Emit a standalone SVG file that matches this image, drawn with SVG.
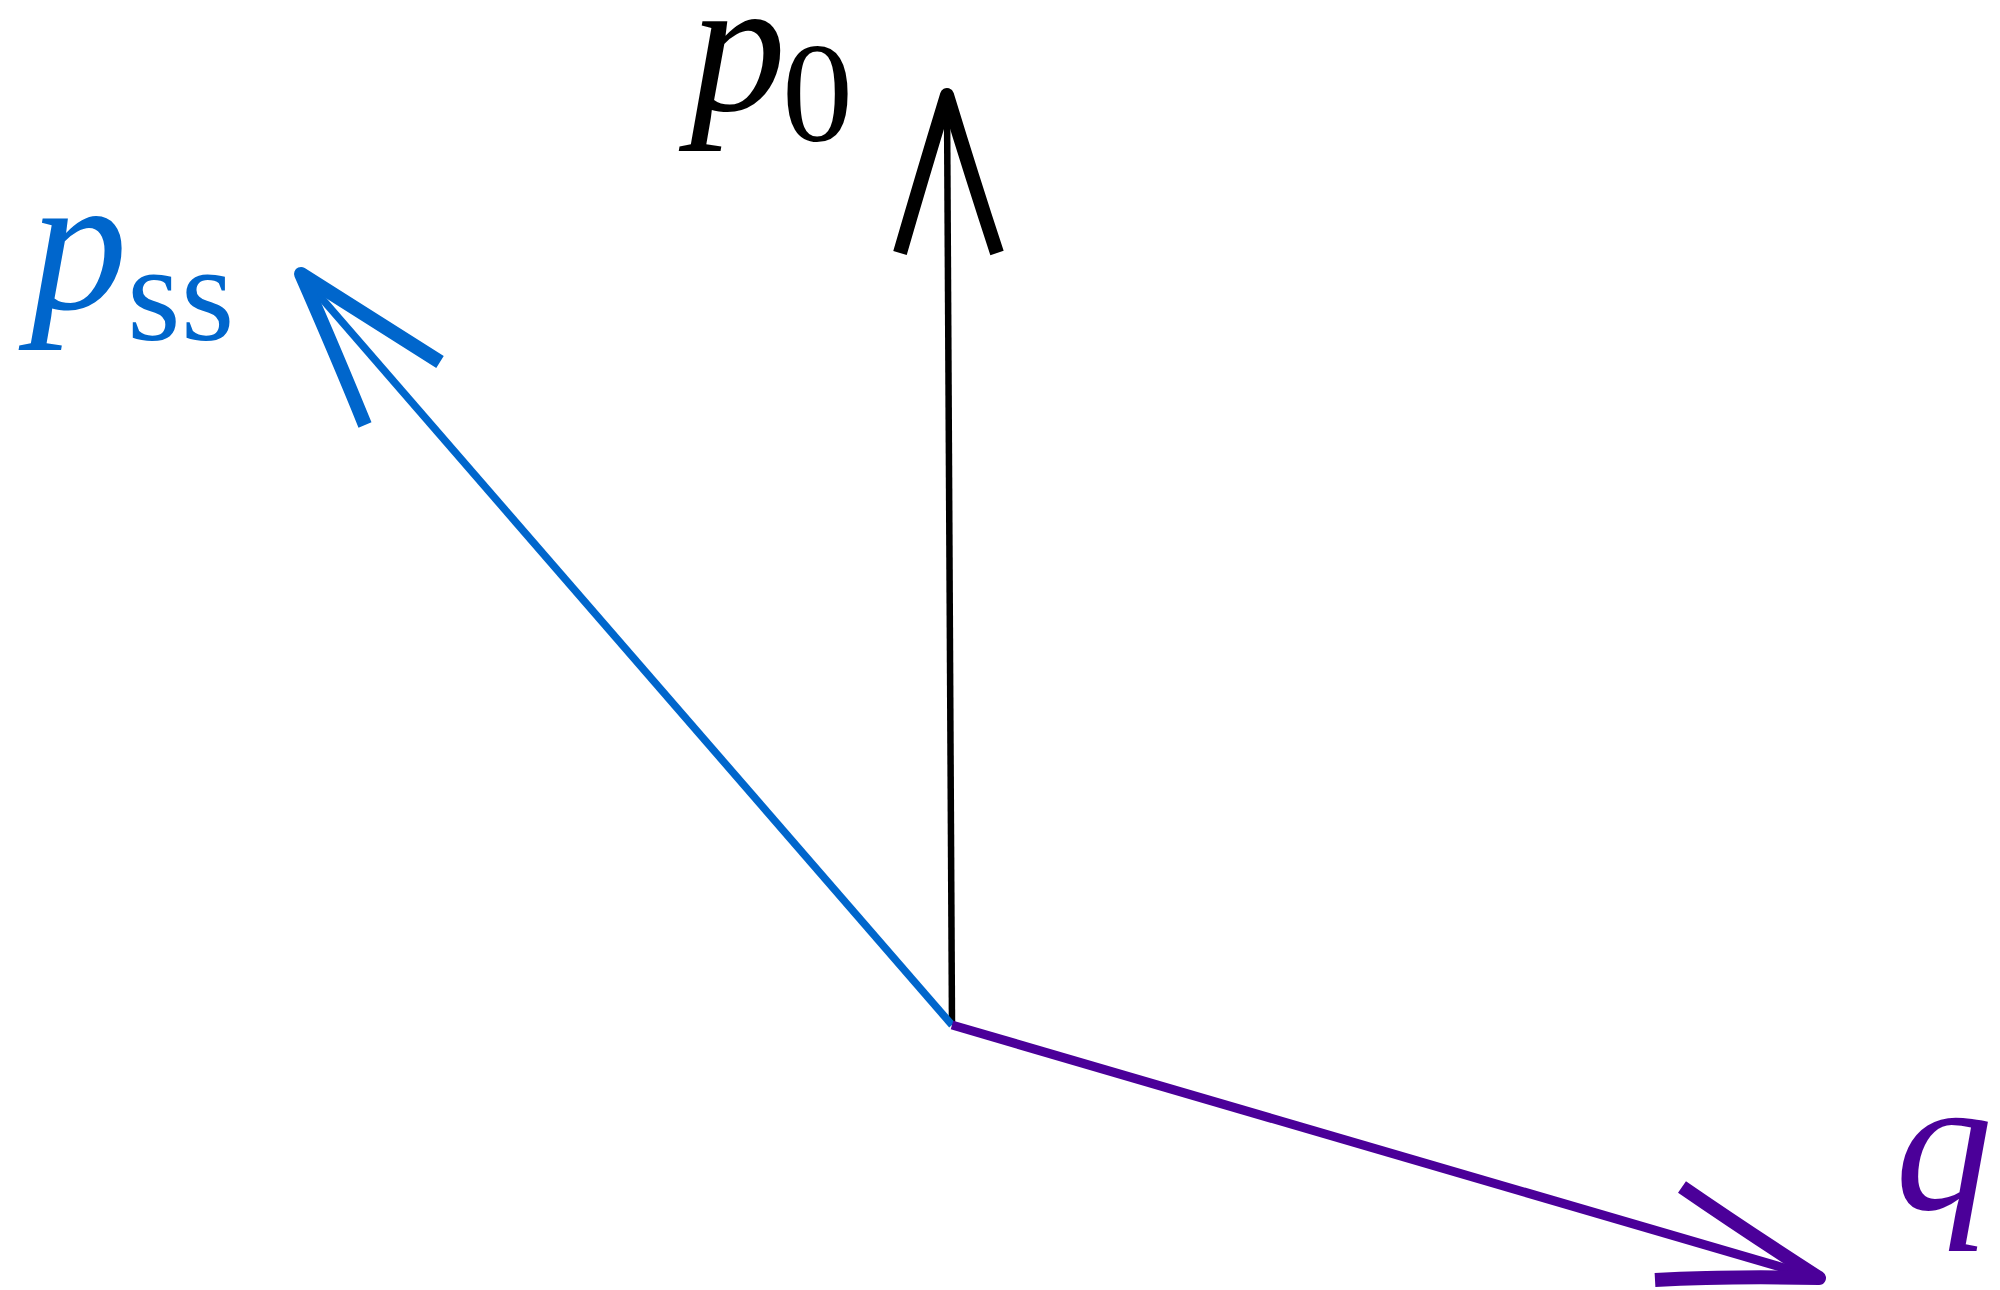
<svg xmlns="http://www.w3.org/2000/svg" width="2000" height="1290" viewBox="0 0 2000 1290">
<style>
.shaft{fill:none;stroke-linecap:butt}
.head{fill:none;stroke-width:14;stroke-linecap:butt;stroke-linejoin:round}
.it{font-family:"Liberation Serif","DejaVu Serif",serif;font-style:italic}
.rm{font-family:"Liberation Serif","DejaVu Serif",serif}
</style>
<rect width="2000" height="1290" fill="#ffffff"/>
<g id="connectors">
<g id="edge-p0" stroke="#000000">
<path class="shaft" d="M952,1025 L947,100" stroke-width="6.5"/>
<path class="head" d="M900,253 Q922,177 947,95 Q972,177 997,253"/>
</g>
<g id="edge-pss" stroke="#0066CC">
<path class="shaft" d="M952,1025 L304,278" stroke-width="7.5"/>
<path class="head" d="M365,425 Q337,356 301,274 Q377,322 440,362"/>
</g>
<g id="edge-q" stroke="#4B0099">
<path class="shaft" d="M952,1025 L1815,1277" stroke-width="9"/>
<path class="head" d="M1682,1187 Q1743,1229 1819,1278 Q1729,1276 1655,1280"/>
</g>
</g>
<g id="node-p0">
<text x="690" y="110" class="it" font-size="192" fill="#000000">p</text>
<text x="782" y="141" class="rm" font-size="142" fill="#000000">0</text>
</g>
<g id="node-pss">
<text x="30" y="308" class="it" font-size="195" fill="#0066CC">p</text>
<text x="127" y="340" class="rm" font-size="138" fill="#0066CC">ss</text>
</g>
<g id="node-q">
<text x="1895" y="1209" class="it" font-size="195" fill="#4B0099">q</text>
</g>
</svg>
